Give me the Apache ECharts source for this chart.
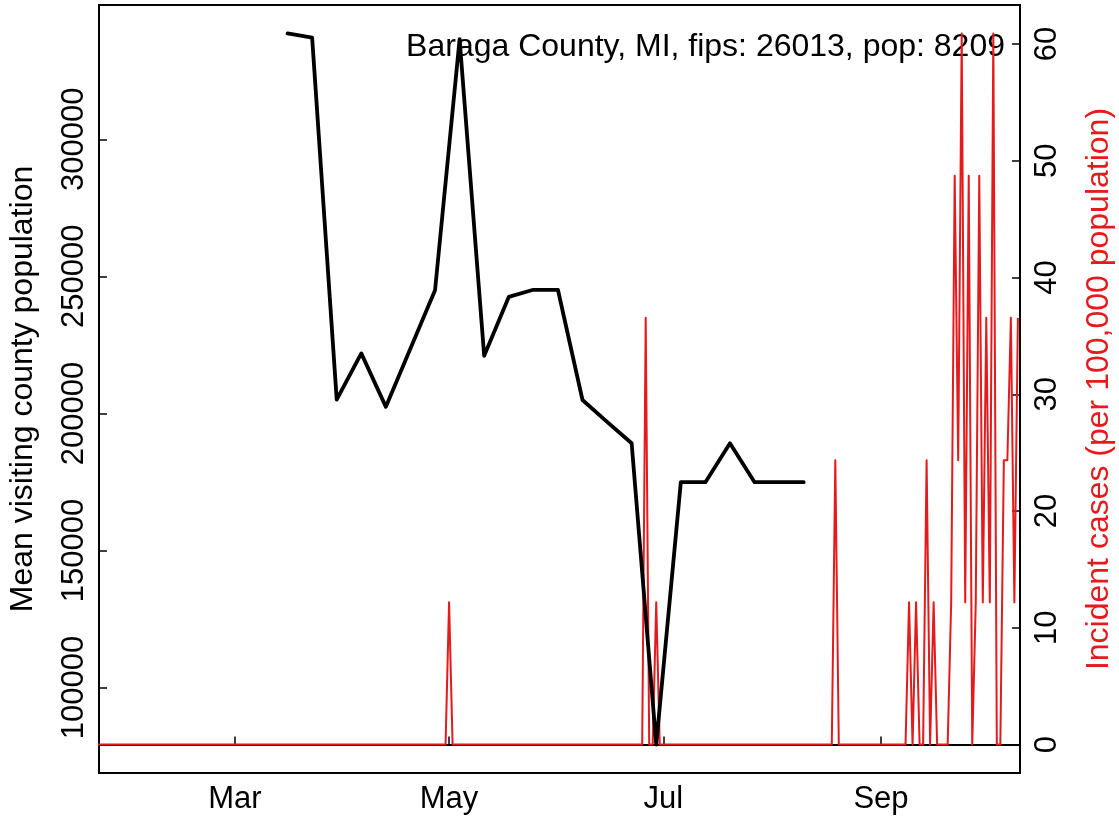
<!DOCTYPE html>
<html>
<head>
<meta charset="UTF-8">
<script src="https://cdn.jsdelivr.net/npm/echarts@6/dist/echarts.min.js"></script>
<style>
  html, body { margin: 0; padding: 0; background: #fff; }
  #chart { width: 1119px; height: 822px; }
</style>
</head>
<body>
<div id="chart"></div>
<script type="text/javascript">

// weekly mean visiting county population (black line)
var visitDates = ['2020-03-16', '2020-03-23', '2020-03-30', '2020-04-06', '2020-04-13', '2020-04-20',
                  '2020-04-27', '2020-05-04', '2020-05-11', '2020-05-18', '2020-05-25', '2020-06-01',
                  '2020-06-08', '2020-06-15', '2020-06-22', '2020-06-29', '2020-07-06', '2020-07-13',
                  '2020-07-20', '2020-07-27', '2020-08-03', '2020-08-10'];
var visitPop = [338600, 337100, 205000, 221900, 202400, 223700,
                244900, 336500, 221000, 242500, 245100, 245100,
                204900, 196900, 189100, 79200, 174900, 174900,
                189100, 174900, 174900, 174900];

// daily incident cases per 100,000 (red line), from 2020-01-22 to 2020-10-10
var caseStart = '2020-01-22';
var incidence = [
  // Jan 22-31
  0,0,0,0,0,0,0,0,0,0,
  // Feb
  0,0,0,0,0,0,0,0,0,0, 0,0,0,0,0,0,0,0,0,0, 0,0,0,0,0,0,0,0,0,
  // Mar
  0,0,0,0,0,0,0,0,0,0, 0,0,0,0,0,0,0,0,0,0, 0,0,0,0,0,0,0,0,0,0, 0,
  // Apr
  0,0,0,0,0,0,0,0,0,0, 0,0,0,0,0,0,0,0,0,0, 0,0,0,0,0,0,0,0,0,0,
  // May
  12.18,0,0,0,0,0,0,0,0,0, 0,0,0,0,0,0,0,0,0,0, 0,0,0,0,0,0,0,0,0,0, 0,
  // Jun
  0,0,0,0,0,0,0,0,0,0, 0,0,0,0,0,0,0,0,0,0, 0,0,0,0,0,36.55,0,0,12.18,0,
  // Jul
  0,0,0,0,0,0,0,0,0,0, 0,0,0,0,0,0,0,0,0,0, 0,0,0,0,0,0,0,0,0,0, 0,
  // Aug
  0,0,0,0,0,0,0,0,0,0, 0,0,0,0,0,0,0,0,24.36,0, 0,0,0,0,0,0,0,0,0,0, 0,
  // Sep
  0,0,0,0,0,0,0,0,12.18,0, 12.18,0,0,24.36,0,12.18,0,0,0,0,
  12.18,48.73,24.36,60.91,12.18,48.73,0,12.18,48.73,12.18,
  // Oct 1-10
  36.55,12.18,60.91,0,0,24.36,24.36,36.55,12.18,36.55
];

var monthTickDates = ['2020-03-01', '2020-05-01', '2020-07-01', '2020-09-01'];
var monthLabels = ['Mar', 'May', 'Jul', 'Sep'];
var leftTicks = [100000, 150000, 200000, 250000, 300000];
var rightTicks = [0, 10, 20, 30, 40, 50, 60];

var titleText = 'Baraga County, MI, fips: 26013, pop: 8209';
var red = '#E41A1C';
var fontFam = "'Liberation Sans', Arial, sans-serif";

// day number since 2020-01-01
function dayNum(s) {
    var p = s.split('-');
    return (Date.UTC(+p[0], +p[1] - 1, +p[2]) - Date.UTC(2020, 0, 1)) / 86400000;
}

var blackData = [];
for (var i = 0; i < visitDates.length; i++) {
    blackData.push([dayNum(visitDates[i]), visitPop[i]]);
}
var redData = [];
var d0 = dayNum(caseStart);
for (var j = 0; j < incidence.length; j++) {
    redData.push([d0 + j, incidence[j]]);
}
var monthTicks = monthTickDates.map(dayNum);

var chart = echarts.init(document.getElementById('chart'));

var option = {
    animation: false,
    backgroundColor: '#fff',
    title: {
        text: titleText,
        right: 114,
        top: 31,
        padding: 0,
        z: 1,
        textStyle: { fontFamily: fontFam, fontSize: 32, fontWeight: 'normal', color: '#000' }
    },
    grid: {
        left: 99, right: 99, top: 5, bottom: 49,
        show: true, borderColor: '#000', borderWidth: 2,
        outerBoundsMode: 'none'
    },
    xAxis: {
        type: 'value',
        min: 21.3,
        max: 283.6,
        splitLine: { show: false },
        axisLine: { show: true, lineStyle: { color: '#000', width: 2 } },
        axisTick: { show: true, inside: true, length: 8, customValues: monthTicks,
                    lineStyle: { color: '#000', width: 1.5 } },
        axisLabel: {
            customValues: monthTicks,
            margin: 11,
            fontFamily: fontFam, fontSize: 31, color: '#000',
            formatter: function (v) {
                var k = monthTicks.indexOf(v);
                return k >= 0 ? monthLabels[k] : '';
            }
        }
    },
    yAxis: [
        {
            type: 'value',
            position: 'left',
            min: 68820,
            max: 348990,
            name: 'Mean visiting county population',
            nameLocation: 'middle',
            nameGap: 60,
            nameTextStyle: { fontFamily: fontFam, fontSize: 32, color: '#000' },
            splitLine: { show: false },
            axisLine: { show: true, lineStyle: { color: '#000', width: 2 } },
            axisTick: { show: true, inside: true, length: 8, customValues: leftTicks,
                        lineStyle: { color: '#000', width: 1.5 } },
            axisLabel: { customValues: leftTicks, rotate: 90, margin: 9,
                         fontFamily: fontFam, fontSize: 31, color: '#000',
                         formatter: function (v) { return String(v); } }
        },
        {
            type: 'value',
            position: 'right',
            min: -2.436,
            max: 63.35,
            name: 'Incident cases (per 100,000 population)',
            nameLocation: 'middle',
            nameGap: 63,
            nameTextStyle: { fontFamily: fontFam, fontSize: 32, color: red },
            splitLine: { show: false },
            axisLine: { show: true, lineStyle: { color: '#000', width: 2 } },
            axisTick: { show: true, inside: true, length: 8, customValues: rightTicks,
                        lineStyle: { color: '#000', width: 1.5 } },
            axisLabel: { customValues: rightTicks, rotate: 90, margin: 12,
                         fontFamily: fontFam, fontSize: 31, color: '#000',
                         formatter: function (v) { return String(v); } }
        }
    ],
    series: [
        {
            name: 'incidence',
            type: 'line',
            yAxisIndex: 1,
            data: redData,
            symbol: 'none',
            z: 2,
            lineStyle: { color: red, width: 2, join: 'round' }
        },
        {
            name: 'visiting',
            type: 'line',
            yAxisIndex: 0,
            data: blackData,
            symbol: 'none',
            z: 3,
            lineStyle: { color: '#000', width: 3.8, join: 'round', cap: 'round' }
        }
    ]
};

chart.setOption(option);

</script>
</body>
</html>
